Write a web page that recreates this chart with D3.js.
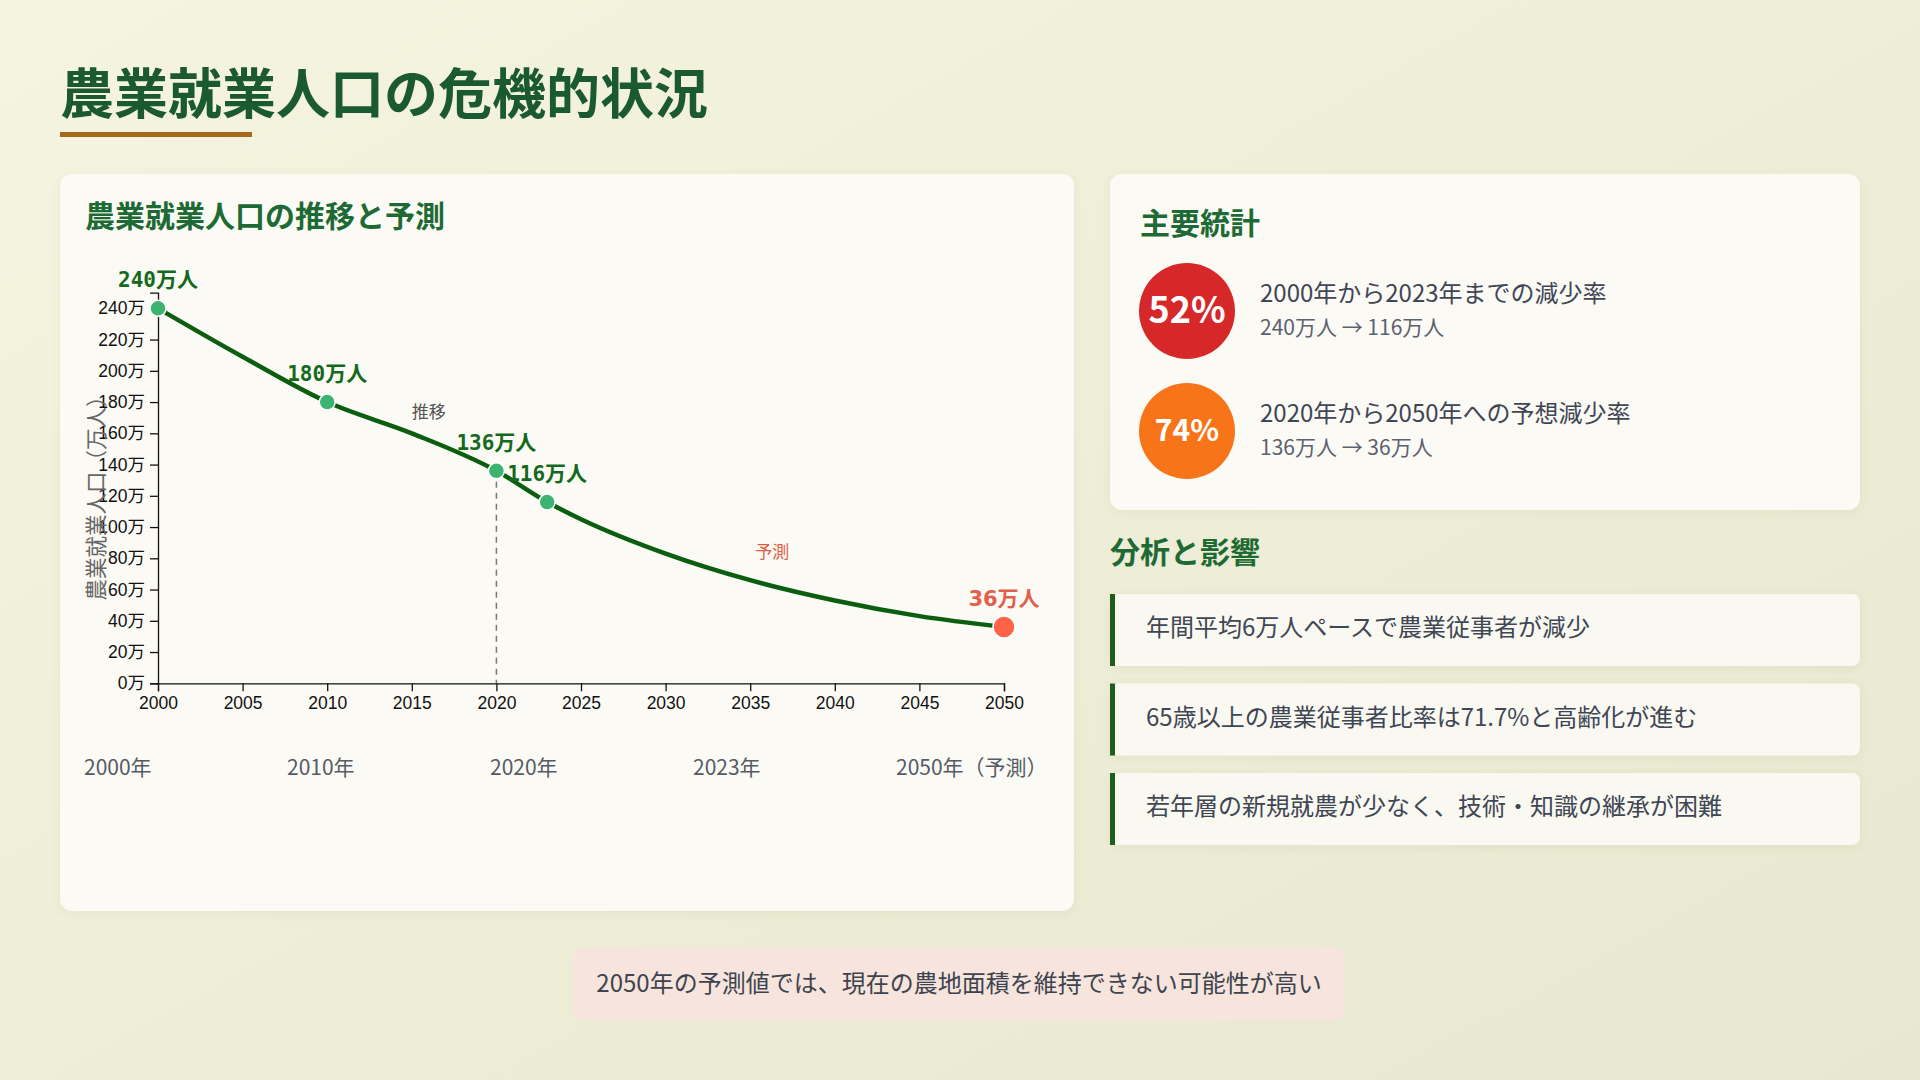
<!DOCTYPE html>
<html lang="ja">
<head>
<meta charset="utf-8">
<title>農業就業人口の危機的状況</title>
<script src="https://cdn.jsdelivr.net/npm/d3@7"></script>
<style>
  html, body { margin: 0; padding: 0; }
  body { width: 1920px; height: 1080px; overflow: hidden; font-family: "Noto Sans CJK JP", sans-serif; }
  svg { display: block; }
</style>
</head>
<body>
<div id="page"></div>
<script>
// line through the years
const lineYears = [2000, 2005, 2010, 2015, 2020, 2023, 2025, 2030, 2035, 2040, 2045, 2050];
const lineValues = [240, 209, 180, 160, 136, 116, 105, 83, 66, 53, 43, 36];

// marked points with labels
const markYears = [2000, 2010, 2020, 2023, 2050];
const markValues = [240, 180, 136, 116, 36];
const markLabels = ["240万人", "180万人", "136万人", "116万人", "36万人"];

const yTickValues = [0, 20, 40, 60, 80, 100, 120, 140, 160, 180, 200, 220, 240];
const xTickValues = [2000, 2005, 2010, 2015, 2020, 2025, 2030, 2035, 2040, 2045, 2050];
const timelineLabels = ["2000年", "2010年", "2020年", "2023年", "2050年（予測）"];

const statValues = ["52%", "74%"];
const statTitles = ["2000年から2023年までの減少率", "2020年から2050年への予想減少率"];
const statDetails = ["240万人 → 116万人", "136万人 → 36万人"];

const analysisItems = [
  "年間平均6万人ペースで農業従事者が減少",
  "65歳以上の農業従事者比率は71.7%と高齢化が進む",
  "若年層の新規就農が少なく、技術・知識の継承が困難",
];

const noteText = "2050年の予測値では、現在の農地面積を維持できない可能性が高い";

const W = 1920, H = 1080;
const jp = '"Noto Sans CJK JP", sans-serif';
const green = "#1e6a34";

const svg = d3.select("#page").append("svg").attr("width", W).attr("height", H);
const defs = svg.append("defs");

const bg = defs.append("linearGradient").attr("id", "bg")
  .attr("x1", "0").attr("y1", "0").attr("x2", "1").attr("y2", "1");
bg.append("stop").attr("offset", "0").attr("stop-color", "#f5f4e0");
bg.append("stop").attr("offset", "1").attr("stop-color", "#e8e7cf");

const shadow = defs.append("filter").attr("id", "shadow")
  .attr("x", "-5%").attr("y", "-5%").attr("width", "110%").attr("height", "115%");
shadow.append("feDropShadow").attr("dx", 0).attr("dy", 2).attr("stdDeviation", 4)
  .attr("flood-color", "#6b6a40").attr("flood-opacity", 0.08);

svg.append("rect").attr("width", W).attr("height", H).attr("fill", "url(#bg)");

// title
svg.append("text").attr("x", 60).attr("y", 114)
  .attr("font-family", jp).attr("font-size", 54).attr("font-weight", 700)
  .attr("fill", "#1b5a31").text("農業就業人口の危機的状況");
svg.append("rect").attr("x", 60).attr("y", 132).attr("width", 192).attr("height", 5)
  .attr("fill", "#a6681c");

// cards
svg.append("rect").attr("x", 60).attr("y", 174).attr("width", 1014).attr("height", 737)
  .attr("rx", 12).attr("fill", "#fbfaf4").attr("filter", "url(#shadow)");
svg.append("rect").attr("x", 1110).attr("y", 174).attr("width", 750).attr("height", 336)
  .attr("rx", 12).attr("fill", "#fbfaf4").attr("filter", "url(#shadow)");

svg.append("text").attr("x", 85).attr("y", 227)
  .attr("font-family", jp).attr("font-size", 30).attr("font-weight", 700)
  .attr("fill", green).text("農業就業人口の推移と予測");

// ---- chart ----
const xScale = d3.scaleLinear().domain([2000, 2050]).range([158, 1004]);
const yScale = d3.scaleLinear().domain([0, 250]).range([683.3, 292.7]);

const chart = svg.append("g");

const xAxis = d3.axisBottom(xScale).tickValues(xTickValues).tickFormat(d3.format("d"))
  .tickSize(8).tickPadding(5);
const yAxis = d3.axisLeft(yScale).tickValues(yTickValues).tickFormat((d) => d + "万")
  .tickSize(8).tickPadding(5);

const gx = chart.append("g").attr("transform", `translate(0,${yScale(0)})`).call(xAxis);
const gy = chart.append("g").attr("transform", `translate(${xScale(2000)},0)`).call(yAxis);
[gx, gy].forEach((g) => {
  g.selectAll("text").attr("font-family", '"Liberation Sans", "Noto Sans CJK JP", sans-serif')
    .attr("font-size", 17.5).attr("fill", "#111");
  g.selectAll("path, line").attr("stroke", "#111").attr("stroke-width", 1.3);
});

chart.append("text")
  .attr("transform", `translate(104,${(yScale(0) + yScale(250)) / 2 + 5}) rotate(-90)`)
  .attr("text-anchor", "middle").attr("font-family", jp).attr("font-size", 21.5)
  .attr("fill", "#666").text("農業就業人口（万人）");

// dashed line at 2020
chart.append("line")
  .attr("x1", xScale(2020)).attr("x2", xScale(2020))
  .attr("y1", yScale(136)).attr("y2", yScale(0))
  .attr("stroke", "#777").attr("stroke-width", 1.5).attr("stroke-dasharray", "6,5");

const line = d3.line()
  .x((d, i) => xScale(lineYears[i]))
  .y((d) => yScale(d))
  .curve(d3.curveMonotoneX);

chart.append("path").attr("d", line(lineValues))
  .attr("fill", "none").attr("stroke", "#0b5e10").attr("stroke-width", 4.5);

const last = markYears.length - 1;
chart.selectAll("circle.pt").data(markValues).enter().append("circle")
  .attr("class", "pt")
  .attr("cx", (d, i) => xScale(markYears[i]))
  .attr("cy", (d) => yScale(d))
  .attr("r", (d, i) => (i === last ? 11 : 8))
  .attr("fill", (d, i) => (i === last ? "#ff6347" : "#3cb371"))
  .attr("stroke", "#fff").attr("stroke-width", 1.5);

chart.selectAll("text.lbl").data(markLabels).enter().append("text")
  .attr("class", "lbl")
  .attr("x", (d, i) => xScale(markYears[i]))
  .attr("y", (d, i) => yScale(markValues[i]) - 21)
  .attr("text-anchor", "middle")
  .attr("font-family", (d, i) => (i === last
    ? '"DejaVu Sans", "Noto Sans CJK JP", sans-serif'
    : '"DejaVu Sans Mono", "Noto Sans CJK JP", monospace'))
  .attr("font-size", 21).attr("font-weight", 700)
  .attr("fill", (d, i) => (i === last ? "#e0604c" : "#136a1c"))
  .text((d) => d);

chart.append("text").attr("x", xScale(2016)).attr("y", yScale(170))
  .attr("text-anchor", "middle").attr("font-family", jp).attr("font-size", 17)
  .attr("fill", "#555").text("推移");
chart.append("text").attr("x", xScale(2036.3)).attr("y", yScale(80))
  .attr("text-anchor", "middle").attr("font-family", jp).attr("font-size", 17)
  .attr("fill", "#dd5f4a").text("予測");

// year labels row
const band = d3.scaleBand().domain(timelineLabels).range([84, 84 + 203 * timelineLabels.length]);
svg.selectAll("text.tl").data(timelineLabels).enter().append("text")
  .attr("class", "tl")
  .attr("x", (d) => band(d)).attr("y", 775)
  .attr("font-family", jp).attr("font-size", 21).attr("fill", "#555b66")
  .text((d) => d);

// ---- stats ----
svg.append("text").attr("x", 1140).attr("y", 234)
  .attr("font-family", jp).attr("font-size", 30).attr("font-weight", 700)
  .attr("fill", green).text("主要統計");

const statColors = ["#d62828", "#f77418"];
const statY = [311, 431];
const statSizes = [36, 30];
statValues.forEach((v, i) => {
  svg.append("circle").attr("cx", 1187).attr("cy", statY[i]).attr("r", 48)
    .attr("fill", statColors[i]);
  svg.append("text").attr("x", 1187).attr("y", statY[i] + statSizes[i] * 0.34)
    .attr("text-anchor", "middle").attr("font-family", jp)
    .attr("font-size", statSizes[i]).attr("font-weight", 700).attr("fill", "#fff")
    .text(v);
  svg.append("text").attr("x", 1260).attr("y", statY[i] - 9)
    .attr("font-family", jp).attr("font-size", 24).attr("fill", "#3f4654")
    .text(statTitles[i]);
  svg.append("text").attr("x", 1260).attr("y", statY[i] + 24)
    .attr("font-family", jp).attr("font-size", 21).attr("fill", "#5b6170")
    .text(statDetails[i]);
});

// ---- analysis ----
svg.append("text").attr("x", 1110).attr("y", 563)
  .attr("font-family", jp).attr("font-size", 30).attr("font-weight", 700)
  .attr("fill", green).text("分析と影響");

analysisItems.forEach((t, i) => {
  const y0 = 594 + i * 89.5;
  svg.append("rect").attr("x", 1110).attr("y", y0).attr("width", 750).attr("height", 72)
    .attr("rx", 8).attr("fill", "#f9f8f1").attr("filter", "url(#shadow)");
  svg.append("rect").attr("x", 1110).attr("y", y0).attr("width", 5).attr("height", 72)
    .attr("fill", "#1d5e1d");
  svg.append("text").attr("x", 1146).attr("y", y0 + 42)
    .attr("font-family", jp).attr("font-size", 24).attr("fill", "#3f4654").text(t);
});

// ---- note ----
svg.append("rect").attr("x", 573).attr("y", 948).attr("width", 772).attr("height", 72)
  .attr("rx", 10).attr("fill", "#f7e4dc");
svg.append("text").attr("x", 959).attr("y", 992).attr("text-anchor", "middle")
  .attr("font-family", jp).attr("font-size", 24).attr("fill", "#3d4450").text(noteText);
</script>
</body>
</html>
